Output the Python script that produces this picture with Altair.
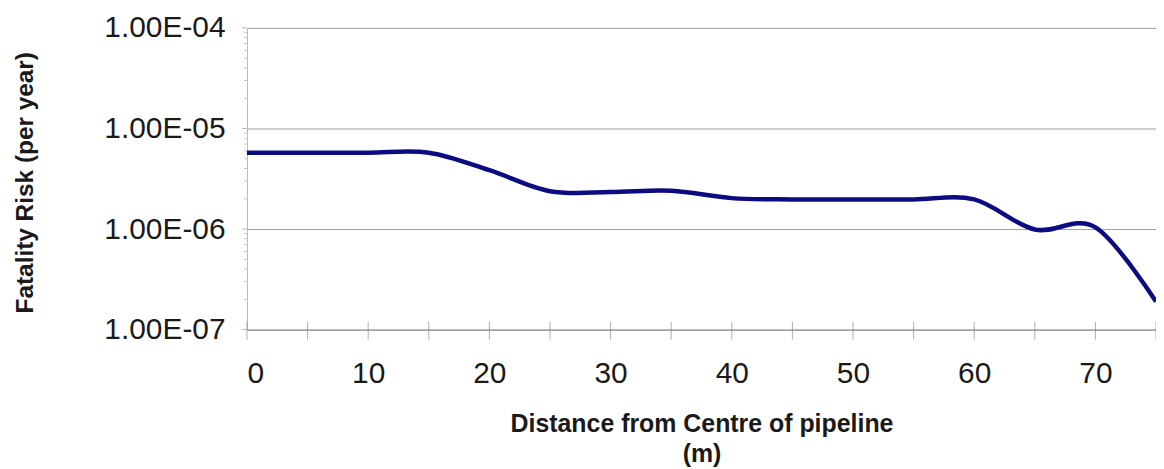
import altair as alt
import pandas as pd

# ---- data ----
distance = [0, 5, 10, 15, 20, 25, 30, 35, 40, 45, 50, 55, 60, 65, 70, 75]
risk = [5.75e-6, 5.75e-6, 5.75e-6, 5.75e-6, 3.85e-6, 2.38e-6, 2.33e-6, 2.40e-6,
        2.03e-6, 1.97e-6, 1.97e-6, 1.97e-6, 1.97e-6, 0.99e-6, 1.04e-6, 1.9e-7]

x_label_values = [0, 10, 20, 30, 40, 50, 60, 70]
x_tick_positions = [0, 5, 10, 15, 20, 25, 30, 35, 40, 45, 50, 55, 60, 65, 70, 75]
y_decades = [1e-7, 1e-6, 1e-5, 1e-4]
y_minor = [2e-7, 3e-7, 4e-7, 5e-7, 6e-7, 7e-7, 8e-7, 9e-7,
           2e-6, 3e-6, 4e-6, 5e-6, 6e-6, 7e-6, 8e-6, 9e-6,
           2e-5, 3e-5, 4e-5, 5e-5, 6e-5, 7e-5, 8e-5, 9e-5]

x_title = ["Distance from Centre of pipeline", "(m)"]
y_title = "Fatality Risk (per year)"

W, H = 913, 303
FONT = "Liberation Sans"

line_df = pd.DataFrame({"distance": distance, "risk": risk})
xt_df = pd.DataFrame({"distance": x_tick_positions})
ymaj_df = pd.DataFrame({"risk": y_decades})
ymin_df = pd.DataFrame({"risk": y_minor})

xscale = alt.Scale(domain=[0, 75], nice=False, zero=False)
yscale = alt.Scale(type="log", domain=[1e-7, 1e-4], nice=False)

x_axis = alt.Axis(
    values=x_label_values,
    title=x_title,
    ticks=False,
    grid=False,
    domainColor="#8c8c8c",
    labelFont=FONT,
    labelFontSize=30,
    labelColor="#1a1a1a",
    labelPadding=29,
    labelBaseline="top",
    titleFont=FONT,
    titleFontSize=25,
    titleFontWeight="bold",
    titleColor="#1a1a1a",
    titleLineHeight=30,
    titleBaseline="top",
    titleAlign="center",
    titleX=W / 2,
    titleY=82,
)

y_axis = alt.Axis(
    values=y_decades,
    labelExpr="'1.00E-0' + (-round(log(datum.value) / LN10))",
    title=y_title,
    ticks=False,
    grid=True,
    gridColor="#a0a0a0",
    domainColor="#b8b8b8",
    labelFont=FONT,
    labelFontSize=30,
    labelColor="#1a1a1a",
    labelPadding=22,
    titleFont=FONT,
    titleFontSize=24.5,
    titleFontWeight="bold",
    titleColor="#1a1a1a",
    titleAngle=270,
    titleBaseline="alphabetic",
    titleAlign="center",
    titleX=-215,
    titleY=155,
)

X = alt.X("distance:Q", scale=xscale, axis=x_axis)
Y = alt.Y("risk:Q", scale=yscale, axis=y_axis)

line = alt.Chart(line_df).mark_line(
    color="#0c0c82", strokeWidth=4.5, interpolate="cardinal", tension=0
).encode(x=X, y=Y)

x_ticks = alt.Chart(xt_df).mark_tick(
    orient="vertical", size=18, thickness=1, color="#8a8a8a"
).encode(x=X, y=alt.value(H + 1))

y_major_ticks = alt.Chart(ymaj_df).mark_tick(
    orient="horizontal", size=5, thickness=1, color="#9a9a9a"
).encode(y=Y, x=alt.value(-2.5))

y_minor_ticks = alt.Chart(ymin_df).mark_tick(
    orient="horizontal", size=3, thickness=1, color="#b0b0b0"
).encode(y=Y, x=alt.value(-1.5))

chart = alt.layer(line, x_ticks, y_major_ticks, y_minor_ticks).properties(
    width=W,
    height=H,
    autosize=alt.AutoSizeParams(type="none"),
    padding={"left": 240, "top": 19, "right": 0, "bottom": 145},
    background="white",
).configure_view(stroke=None)

chart.save("out.html", embed_options={"renderer": "svg", "actions": False})
